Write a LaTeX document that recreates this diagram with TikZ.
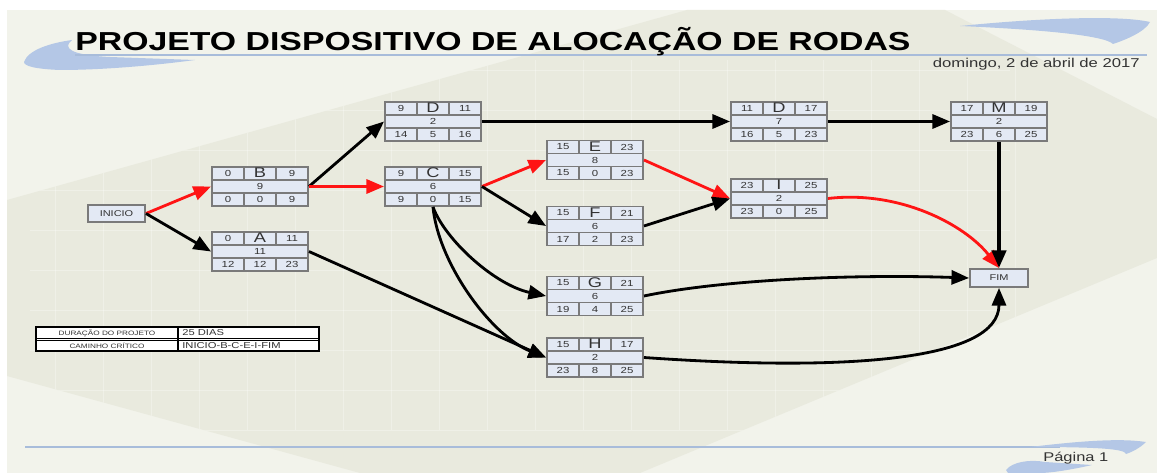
\documentclass[tikz,border=0pt]{standalone}
\usepackage{fontspec}
\setmainfont{Liberation Sans}[FakeStretch=1.3]
\usetikzlibrary{arrows.meta}

\definecolor{fundo}{HTML}{F2F3EB}
\definecolor{fundoescuro}{HTML}{E9EADE}
\definecolor{celula}{HTML}{E3E9F4}
\definecolor{borda}{HTML}{7A7A7A}
\definecolor{linhaazul}{HTML}{A8BCDA}
\definecolor{onda}{HTML}{B4C7E6}
\definecolor{critico}{HTML}{FF1414}
\definecolor{texto}{HTML}{333333}

% caixa de atividade: nome, posicao, letra, ES, EF, duracao, LS, folga, LF
\newcommand{\atividade}[9]{%
\begin{scope}[shift={(#2)}]
  \node[caixa] (#1) at (0,0) {};
  \draw[grade] (-48,-6.5) -- (48,-6.5) (-48,6.5) -- (48,6.5)
    (-16,-19.5) -- (-16,-6.5) (16,-19.5) -- (16,-6.5)
    (-16,6.5) -- (-16,19.5) (16,6.5) -- (16,19.5);
  \node[numero] (#1-es) at (-32,-13) {#4};
  \node[letra]  (#1-nome) at (0,-13.5) {#3};
  \node[numero] (#1-ef) at (32,-13) {#5};
  \node[numero] (#1-dur) at (0,0) {#6};
  \node[numero] (#1-ls) at (-32,13) {#7};
  \node[numero] (#1-folga) at (0,13) {#8};
  \node[numero] (#1-lf) at (32,13) {#9};
\end{scope}}

\begin{document}
\begin{tikzpicture}[x=0.02cm,y=-0.02cm,
    caixa/.style={rectangle,draw=borda,fill=celula,line width=1.1pt,
        minimum width=1.92cm,minimum height=0.78cm,inner sep=0pt},
    grade/.style={draw=borda,line width=1.1pt},
    numero/.style={inner sep=0pt,text=texto,font=\fontsize{5}{6}\selectfont},
    letra/.style={inner sep=0pt,text=texto,font=\fontsize{8}{9}\selectfont},
    extremo/.style={rectangle,draw=borda,fill=celula,line width=1.1pt,
        inner sep=0pt,text=texto,font=\fontsize{4.8}{5}\selectfont},
    seta/.style={-{Triangle[length=10pt,width=8pt]},line width=1.6pt,black},
    critica/.style={seta,critico},
    tabela/.style={inner sep=0pt,text=texto,font=\fontsize{3.6}{4}\selectfont}]
\useasboundingbox (0,0) rectangle (1157,473);

% fundo da pagina
\fill[white] (0,0) rectangle (1157,473);
\fill[fundo] (7,10) rectangle (1157,473);
\fill[fundoescuro] (687,10) -- (945,10) -- (1157,119) -- (1157,258)
    -- (640,473) -- (360,473) -- (7,376) -- (7,200) -- cycle;
\begin{scope}
  \clip (687,10) -- (945,10) -- (1157,119) -- (1157,258)
    -- (640,473) -- (360,473) -- (7,376) -- (7,200) -- cycle;
  \foreach \gx in {55,103,...,1015}
    \draw[white,opacity=.3,line width=.4pt] (\gx,60) -- (\gx,430);
  \foreach \gy in {70,110,...,430}
    \draw[white,opacity=.3,line width=.4pt] (30,\gy) -- (1010,\gy);
\end{scope}

% ondas e linhas azuis
\fill[onda] (24,62) .. controls (28,50) and (50,43) .. (72,40)
    .. controls (62,48) and (70,55) .. (110,57) -- (195,60)
    .. controls (150,66) and (100,70) .. (60,70)
    .. controls (35,69) and (24,66) .. cycle;
\fill[onda] (960,26) .. controls (1040,18) and (1120,15) .. (1150,22)
    .. controls (1145,32) and (1125,40) .. (1113,44)
    .. controls (1105,36) and (1050,30) .. cycle;
\draw[linhaazul,line width=1pt] (75,55) -- (1147,55);
\draw[linhaazul,line width=1.2pt] (25,447) -- (1060,447);
\fill[onda] (1030,447) .. controls (1080,441) and (1120,438) .. (1146,442)
    .. controls (1140,448) and (1132,452) .. (1126,454)
    .. controls (1125,449) and (1100,447) .. cycle;
\fill[onda] (1006,470) .. controls (1012,462) and (1030,459) .. (1045,462)
    -- (1092,465) .. controls (1070,470) and (1050,473) .. (1040,473)
    -- (1008,473) -- cycle;

% cabecalho e rodape
\node[anchor=base west,inner sep=0pt,font=\fontsize{14.8}{16}\bfseries] (titulo)
    at (75,51) {PROJETO DISPOSITIVO DE ALOCAÇÃO DE RODAS};
\node[anchor=base east,inner sep=0pt,text=texto,font=\fontsize{7.3}{8}\selectfont] (data)
    at (1140,68) {domingo, 2 de abril de 2017};
\node[anchor=base west,inner sep=0pt,text=texto,font=\fontsize{7.2}{8}\selectfont] (pagina)
    at (1043,461) {Página 1};

% atividades
\node[extremo,minimum width=1.14cm,minimum height=0.34cm] (INICIO) at (116.5,213.5) {INICIO};
\node[extremo,minimum width=1.16cm,minimum height=0.36cm] (FIM) at (999,278) {FIM};
\atividade{B}{260,186.5}{B}{0}{9}{9}{0}{0}{9}
\atividade{A}{260,251.5}{A}{0}{11}{11}{12}{12}{23}
\atividade{D}{433,121.5}{D}{9}{11}{2}{14}{5}{16}
\atividade{C}{433,186.5}{C}{9}{15}{6}{9}{0}{15}
\atividade{E}{595,160}{E}{15}{23}{8}{15}{0}{23}
\atividade{F}{595,226}{F}{15}{21}{6}{17}{2}{23}
\atividade{G}{595,296}{G}{15}{21}{6}{19}{4}{25}
\atividade{H}{595,357.5}{H}{15}{17}{2}{23}{8}{25}
\atividade{D2}{779,121.5}{D}{11}{17}{7}{16}{5}{23}
\atividade{I}{779,198.5}{I}{23}{25}{2}{23}{0}{25}
\atividade{M}{999,121.5}{M}{17}{19}{2}{23}{6}{25}

% ligacoes
\draw[critica] (INICIO.east) -- (B.west);
\draw[seta] (INICIO.east) -- (A.west);
\draw[seta] (B.east) -- (D.west);
\draw[critica] (B.east) -- (C.west);
\draw[seta] (D.east) -- (D2.west);
\draw[critica] (C.east) -- (E.west);
\draw[seta] (C.east) -- (F.west);
\draw[seta] (C.south) .. controls (445,240) and (495,285) .. (G.west);
\draw[seta] (C.south) .. controls (438,262) and (490,335) .. (H.west);
\draw[seta] (A.east) -- (H.west);
\draw[critica] (E.east) -- (I.west);
\draw[seta] (F.east) -- (I.west);
\draw[seta] (D2.east) -- (M.west);
\draw[critica] (I.east) .. controls (900,190) and (965,225) .. (FIM.north);
\draw[seta,line width=2.2pt] (M.south) -- (FIM.north);
\draw[seta] (G.east) .. controls (720,280) and (850,274) .. (FIM.west);
\draw[seta] (H.east) .. controls (850,372) and (999,360) .. (FIM.south);

% tabela de resumo
\draw[fill=white,line width=.6pt] (36,327) rectangle (319,351);
\draw[line width=.6pt] (178,327) -- (178,351);
\draw[line width=.5pt] (36,338.5) -- (319,338.5) (36,340.5) -- (319,340.5);
\node[tabela] (duracao) at (107,333) {DURAÇÃO DO PROJETO};
\node[tabela] (caminho) at (107,346) {CAMINHO CRÍTICO};
\node[tabela,anchor=west,font=\fontsize{4.9}{5}\selectfont] (dias) at (182,333) {25 DIAS};
\node[tabela,anchor=west,font=\fontsize{4.9}{5}\selectfont] (critico) at (182,346) {INICIO-B-C-E-I-FIM};
\end{tikzpicture}
\end{document}
